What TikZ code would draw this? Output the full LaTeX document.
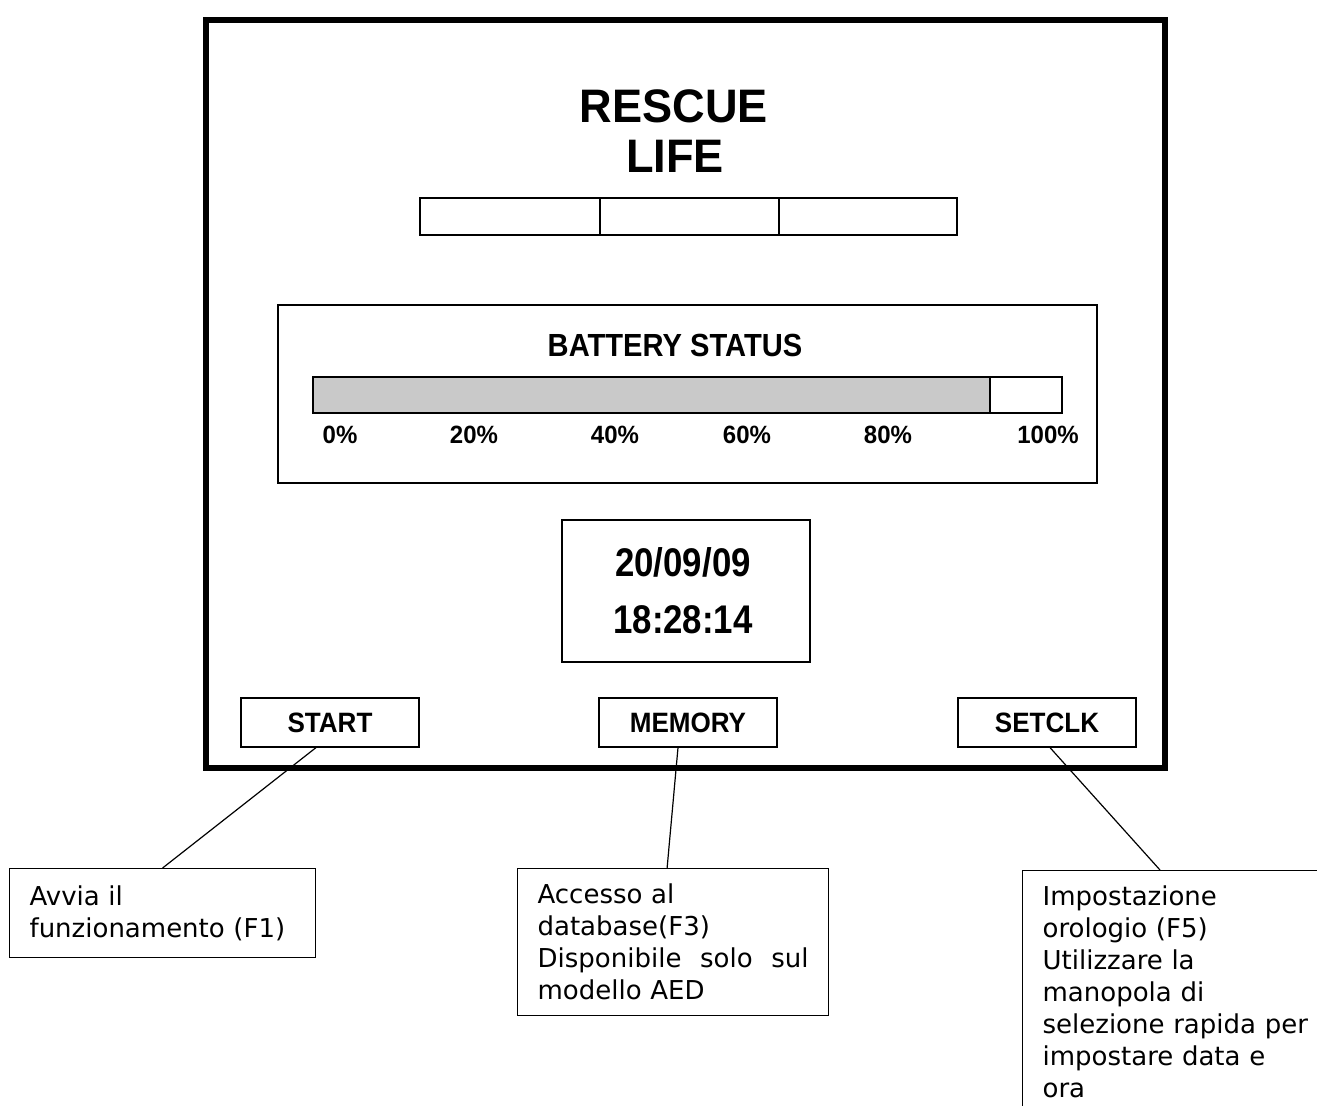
\documentclass[tikz,border=0pt]{standalone}
\usepackage{fontspec}
\usepackage{graphicx}
\setmainfont{DejaVu Sans}
\newfontfamily\lcdfont{Liberation Sans}
\newcommand{\narrow}[2]{\scalebox{#1}[1]{#2}}
\begin{document}
\begin{tikzpicture}[x=0.5pt,y=-0.5pt,
  box/.style={draw,line width=0.6pt},
  lcd/.style={anchor=base,font=\lcdfont\bfseries\fontsize{#1}{#1}\selectfont},
  key/.style={box,minimum width=89pt,minimum height=24.5pt,inner sep=0pt,
    font=\lcdfont\bfseries\fontsize{14}{16}\selectfont},
  note/.style={box,anchor=north west,align=left,inner xsep=10pt,inner ysep=0pt,
    font=\fontsize{13}{16}\selectfont}]
  \useasboundingbox (0,0) rectangle (1317,1106);
  \clip (0,0) rectangle (1317,1106);

  % display frame
  \draw[line width=2.75pt] (206,20) rectangle (1165,768);

  \node[lcd=23.5] (rescue) at (674,123) {\narrow{0.96}{RESCUE}};
  \node[lcd=23.5] (life) at (675,173) {\narrow{0.96}{LIFE}};
  \foreach \a/\b in {420/600,600/779,779/957}
    \draw[box] (\a,198) rectangle (\b,235);

  % battery
  \draw[box] (278,305) rectangle (1097,483);
  \node[lcd=16] (battery) at (675,357) {\narrow{0.91}{BATTERY STATUS}};
  \draw[box,fill=black!21] (313,377) rectangle (990,413);
  \draw[box] (990,377) rectangle (1062,413);
  \foreach \p/\x in {0/340,20/474,40/615,60/747,80/888,100/1048}
    \node[lcd=12.5] (pct\p) at (\x,444) {\narrow{0.96}{\p\%}};

  % clock
  \draw[box] (562,520) rectangle (810,662);
  \node[lcd=20] (date) at (683,577) {\narrow{0.87}{20/09/09}};
  \node[lcd=20] (time) at (683,633) {\narrow{0.87}{18:28:14}};

  % keys
  \node[key] (start) at (330,722.5) {\narrow{0.93}{START}};
  \node[key] (memory) at (688,722.5) {\narrow{0.93}{MEMORY}};
  \node[key] (setclk) at (1047,722.5) {\narrow{0.93}{SETCLK}};

  % notes
  \node[note,text width=133pt,minimum height=44.5pt] (avvia) at (9,868)
    {Avvia il\\funzionamento (F1)};
  \node[note,text width=135.5pt,minimum height=73.5pt] (accesso) at (517,868)
    {Accesso al\\database(F3)\\Disponibile\hfill solo\hfill sul\\modello AED};
  \node[note,text width=200pt,minimum height=121.5pt] (orologio) at (1022,870)
    {Impostazione\\orologio (F5)\\Utilizzare la\\manopola di\\selezione rapida per\\impostare data e\\ora};

  \draw[box] ([xshift=-7pt]start.south) -- (avvia.north);
  \draw[box] ([xshift=-5pt]memory.south) -- ([xshift=-3pt]accesso.north);
  \draw[box] ([xshift=1.5pt]setclk.south) -- ([xshift=69pt]orologio.north west);
\end{tikzpicture}
\end{document}
